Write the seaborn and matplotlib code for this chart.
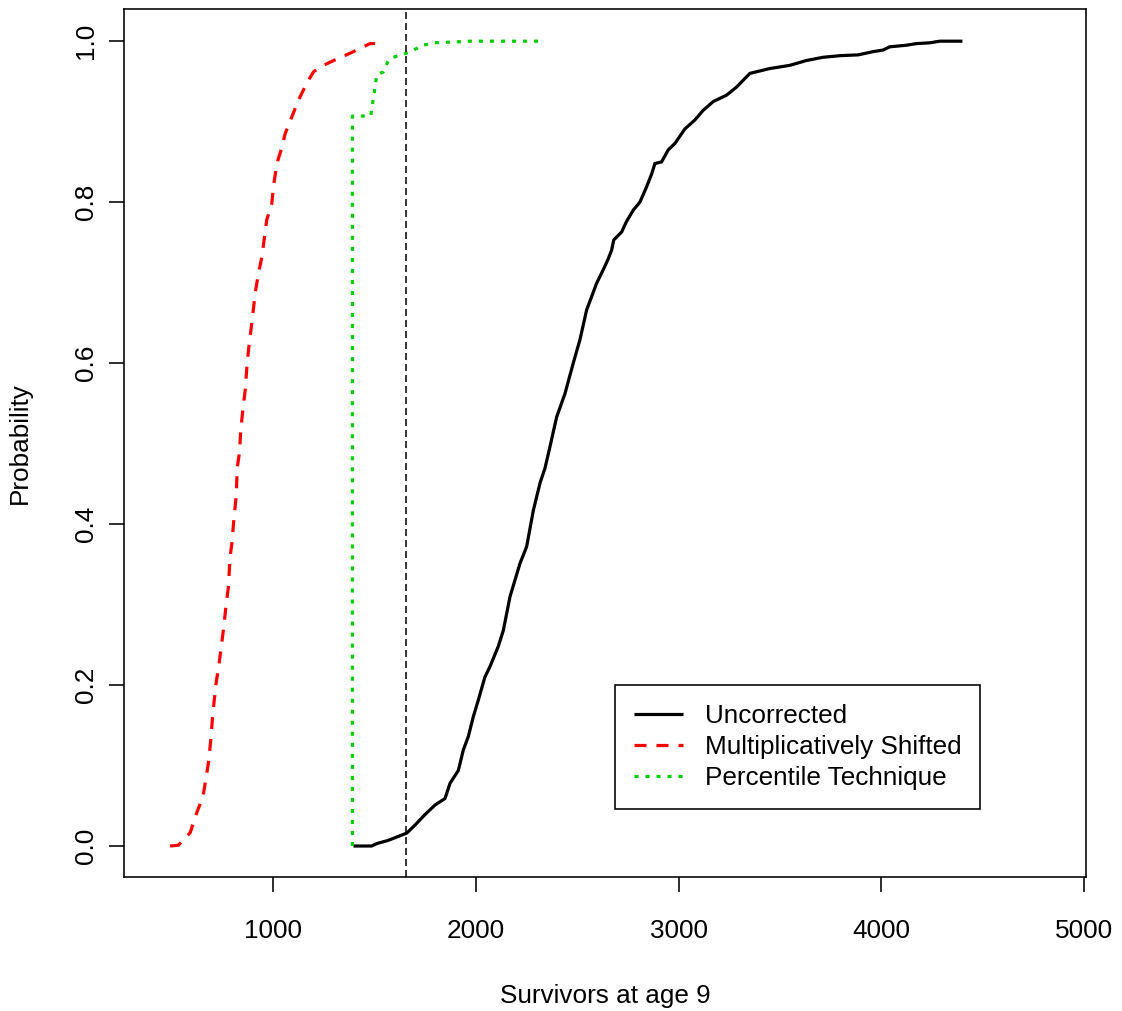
import numpy as np
import pandas as pd
import matplotlib
matplotlib.use("Agg")
import matplotlib.pyplot as plt
import seaborn as sns

# ---- data ----
uncorr_x = [1395, 1485, 1510, 1567, 1617, 1658, 1699, 1748, 1798, 1847, 1872, 1913, 1937,
            1962, 1987, 2011, 2044, 2069, 2110, 2135, 2168, 2217, 2250, 2283, 2316, 2340,
            2365, 2398, 2439, 2480, 2513, 2546, 2595, 2628, 2650, 2669, 2680, 2719, 2743,
            2776, 2809, 2842, 2867, 2883, 2916, 2949, 2982, 3031, 3080, 3121, 3171, 3237,
            3286, 3352, 3450, 3549, 3631, 3713, 3796, 3886, 3960, 4009, 4042, 4125, 4174,
            4240, 4289, 4401]
uncorr_y = [0.0, 0.0, 0.003, 0.007, 0.012, 0.016, 0.026, 0.039, 0.051, 0.059, 0.078, 0.094, 0.119,
            0.136, 0.161, 0.181, 0.210, 0.223, 0.248, 0.268, 0.310, 0.351, 0.372, 0.417, 0.451, 0.469,
            0.496, 0.533, 0.562, 0.600, 0.629, 0.666, 0.699, 0.716, 0.728, 0.740, 0.753, 0.763, 0.776,
            0.790, 0.800, 0.819, 0.835, 0.848, 0.850, 0.865, 0.873, 0.891, 0.902, 0.914, 0.925, 0.933,
            0.943, 0.960, 0.966, 0.970, 0.976, 0.980, 0.982, 0.983, 0.987, 0.989, 0.993, 0.995, 0.997,
            0.998, 1.0, 1.0]

mult_x = [490, 531, 589, 621, 652, 666, 679, 691, 701, 717, 732, 745, 757, 767, 778, 786, 795,
          806, 816, 822, 832, 839, 849, 861, 869, 877, 889, 899, 910, 926, 943, 954, 967, 992,
          1000, 1017, 1038, 1058, 1091, 1124, 1165, 1198, 1231, 1297, 1378, 1428, 1477, 1502]
mult_y = [0.0, 0.001, 0.0165, 0.041, 0.061, 0.082, 0.103, 0.132, 0.165, 0.202, 0.227, 0.252, 0.277,
          0.301, 0.322, 0.359, 0.376, 0.409, 0.434, 0.471, 0.488, 0.517, 0.542, 0.567, 0.595, 0.616,
          0.641, 0.662, 0.687, 0.711, 0.732, 0.753, 0.778, 0.798, 0.819, 0.848, 0.865, 0.885, 0.906,
          0.927, 0.948, 0.962, 0.968, 0.976, 0.985, 0.991, 0.997, 0.997]

perc_x = [1390, 1390, 1480, 1500, 1510, 1543, 1567, 1592, 1655, 1691, 1740, 1790, 1888, 1971, 2332]
perc_y = [0.0, 0.907, 0.907, 0.940, 0.958, 0.962, 0.976, 0.980, 0.985, 0.989, 0.995, 0.998, 0.999,
          1.0, 1.0]

ref_x = 1655

series_labels = ["Uncorrected", "Multiplicatively Shifted", "Percentile Technique"]
x_ticks = [1000, 2000, 3000, 4000, 5000]
y_ticks = [0.0, 0.2, 0.4, 0.6, 0.8, 1.0]
y_ticklabels = ["0.0", "0.2", "0.4", "0.6", "0.8", "1.0"]
x_label = "Survivors at age 9"
y_label = "Probability"

# ---- style ----
sns.set_style("ticks")
plt.rcParams["font.family"] = ["Liberation Sans", "DejaVu Sans"]
plt.rcParams["text.color"] = "black"
plt.rcParams["axes.labelcolor"] = "black"
plt.rcParams["xtick.color"] = "black"
plt.rcParams["ytick.color"] = "black"
FS = 18.8
W, H = 1122, 1011

fig = plt.figure(figsize=(W / 100, H / 100), dpi=100)
ax = fig.add_axes([124 / W, 1 - 877 / H, (1086 - 124) / W, (877 - 9) / H])

lw = 2.3
sns.lineplot(x=uncorr_x, y=uncorr_y, ax=ax, color="black", linewidth=lw,
             estimator=None, sort=False, label=series_labels[0])
sns.lineplot(x=mult_x, y=mult_y, ax=ax, color="#FF0000", linewidth=lw,
             estimator=None, sort=False, label=series_labels[1])
sns.lineplot(x=perc_x, y=perc_y, ax=ax, color="#00CD00", linewidth=lw,
             estimator=None, sort=False, label=series_labels[2])
lines = ax.get_lines()
lines[1].set_dashes((3.76, 3.13))
lines[2].set_dashes((1.25, 2.2))
for ln in lines[:3]:
    ln.set_solid_capstyle("butt")
    ln.set_dash_capstyle("butt")

ax.axvline(ref_x, color="black", linewidth=1.1, dashes=(4.6, 2.6))

ax.set_xlim(262.5, 5011)
ax.set_ylim(-0.0385, 1.04)
ax.set_xticks(x_ticks)
ax.set_xticklabels([str(v) for v in x_ticks])
ax.set_yticks(y_ticks)
ax.set_yticklabels(y_ticklabels)

for sp in ax.spines.values():
    sp.set_visible(True)
    sp.set_color("black")
    sp.set_linewidth(1.15)

ax.tick_params(axis="both", direction="out", length=11, width=1.15, color="black",
               labelsize=FS, labelcolor="black")
ax.tick_params(axis="x", pad=19)
ax.tick_params(axis="y", pad=8)
for t in ax.get_yticklabels():
    t.set_rotation(90)
    t.set_va("center")
    t.set_ha("right")

ax.set_xlabel(x_label, fontsize=FS, color="black", labelpad=30)
ax.set_ylabel(y_label, fontsize=FS, color="black", labelpad=30)

leg = ax.legend(loc="upper left", bbox_to_anchor=(615 / W, 1 - 685 / H),
                bbox_transform=fig.transFigure, borderaxespad=0, fontsize=FS,
                frameon=True, fancybox=False, shadow=False, framealpha=1,
                edgecolor="black", handlelength=1.88, handletextpad=0.84,
                labelspacing=0.27, borderpad=0.72, labelcolor="black")
leg.get_frame().set_linewidth(1.15)

fig.savefig("out.png", dpi=100, facecolor="white")
